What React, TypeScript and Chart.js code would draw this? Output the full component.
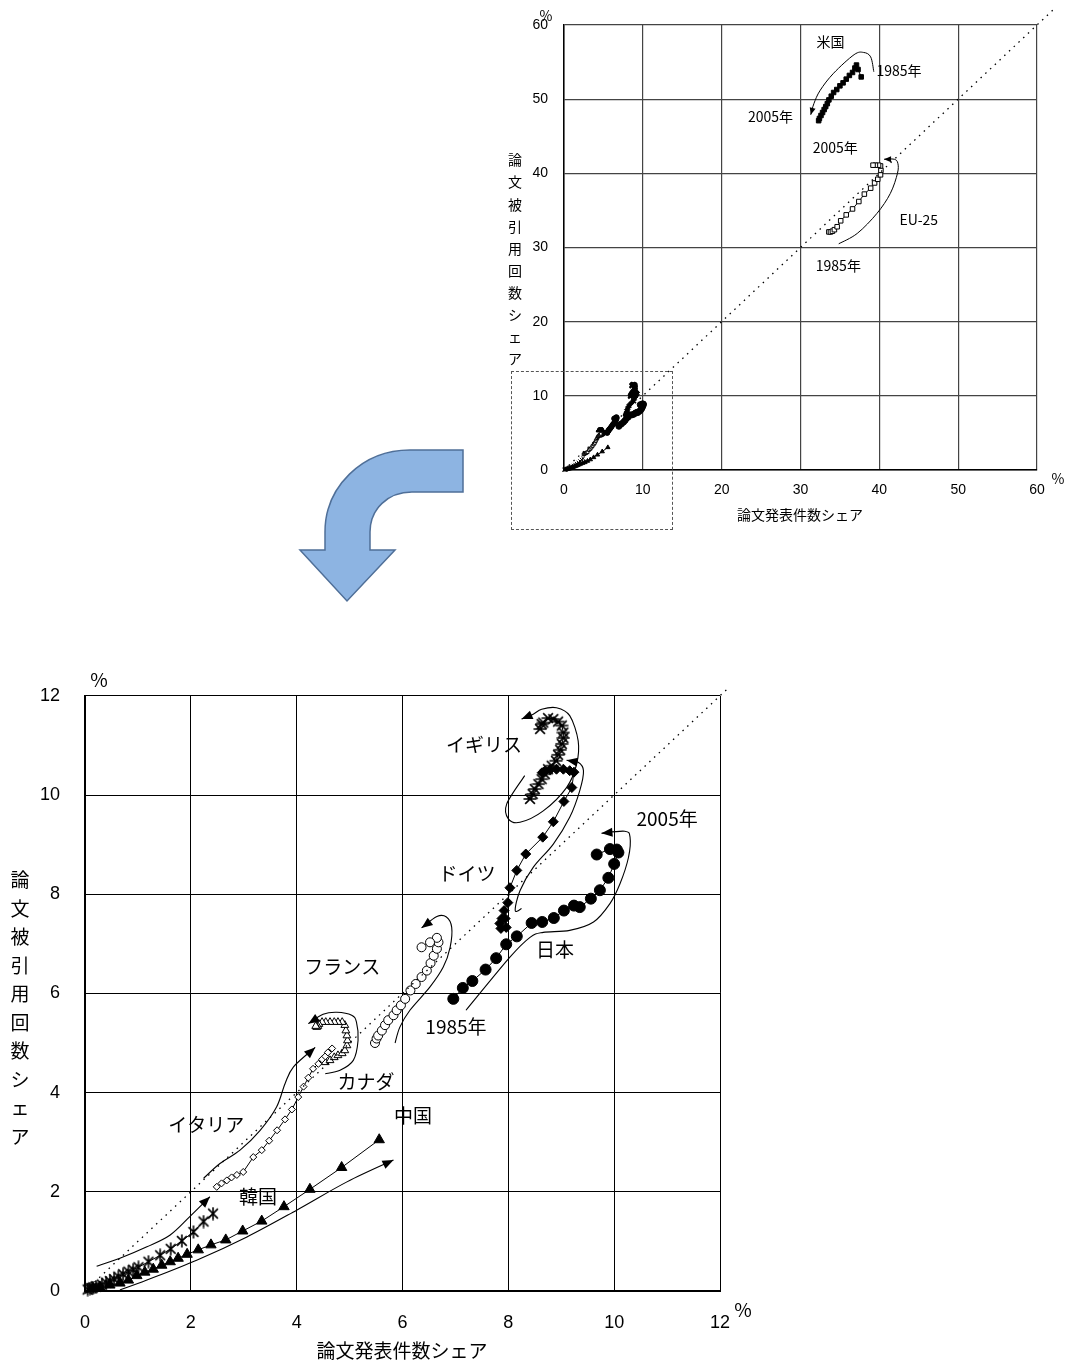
import React, { useEffect, useRef } from 'react';
import { Chart, registerables } from 'chart.js';
Chart.register(...registerables);

type P = [number, number];

// ---------- data (x: 論文発表件数シェア %, y: 論文被引用回数シェア %), 1985 → 2005 ----------
const japan: P[] = [[6.96,5.89],[7.14,6.11],[7.32,6.25],[7.57,6.48],[7.77,6.71],[7.96,6.99],[8.16,7.15],[8.44,7.42],[8.64,7.44],[8.86,7.52],[9.05,7.67],[9.24,7.77],[9.35,7.74],[9.56,7.91],[9.73,8.08],[9.89,8.33],[10.0,8.61],[10.08,8.84],[10.05,8.9],[9.92,8.91],[9.67,8.8]];
const germany: P[] = [[7.88,7.51],[7.84,7.41],[7.86,7.31],[7.96,7.33],[7.94,7.51],[7.92,7.67],[7.99,7.83],[8.03,8.13],[8.16,8.48],[8.33,8.81],[8.65,9.15],[8.85,9.46],[9.05,9.87],[9.2,10.15],[9.24,10.46],[9.16,10.49],[9.04,10.52],[8.91,10.52],[8.79,10.51],[8.69,10.48],[8.64,10.45]];
const uk: P[] = [[8.41,9.92],[8.46,10.02],[8.5,10.12],[8.57,10.22],[8.63,10.32],[8.69,10.42],[8.75,10.52],[8.82,10.59],[8.9,10.69],[8.94,10.81],[8.98,10.91],[9.01,11.03],[9.04,11.15],[9.04,11.26],[9.01,11.4],[8.94,11.48],[8.85,11.53],[8.75,11.55],[8.66,11.46],[8.63,11.43],[8.6,11.33]];
const france: P[] = [[5.48,5.0],[5.51,5.09],[5.54,5.15],[5.61,5.25],[5.67,5.36],[5.73,5.46],[5.83,5.56],[5.89,5.66],[5.97,5.76],[6.05,5.89],[6.15,6.06],[6.25,6.19],[6.36,6.33],[6.46,6.46],[6.53,6.61],[6.59,6.76],[6.65,6.9],[6.68,7.03],[6.65,7.12],[6.52,7.03],[6.36,6.93]];
const canada: P[] = [[4.54,4.61],[4.63,4.65],[4.71,4.71],[4.78,4.75],[4.86,4.79],[4.91,4.85],[4.95,4.95],[4.96,5.05],[4.95,5.15],[4.93,5.25],[4.91,5.36],[4.86,5.42],[4.78,5.42],[4.71,5.42],[4.63,5.42],[4.55,5.42],[4.48,5.42],[4.42,5.38],[4.4,5.34],[4.38,5.32],[4.36,5.34]];
const italy: P[] = [[2.49,2.1],[2.58,2.17],[2.68,2.23],[2.77,2.29],[2.87,2.34],[2.99,2.4],[3.18,2.7],[3.34,2.84],[3.48,3.03],[3.63,3.24],[3.78,3.46],[3.91,3.66],[4.03,3.91],[4.13,4.12],[4.22,4.3],[4.31,4.48],[4.41,4.58],[4.48,4.67],[4.54,4.73],[4.59,4.81],[4.67,4.89]];
const korea: P[] = [[0.05,0.03],[0.09,0.05],[0.12,0.06],[0.15,0.07],[0.21,0.09],[0.32,0.13],[0.4,0.17],[0.47,0.2],[0.55,0.24],[0.63,0.29],[0.72,0.34],[0.82,0.39],[0.91,0.43],[1.01,0.48],[1.2,0.59],[1.42,0.72],[1.62,0.85],[1.83,1.01],[2.05,1.19],[2.24,1.4],[2.42,1.56]];
const china: P[] = [[0.15,0.05],[0.28,0.08],[0.47,0.12],[0.66,0.16],[0.82,0.22],[0.98,0.31],[1.13,0.38],[1.29,0.44],[1.45,0.52],[1.61,0.59],[1.76,0.66],[1.93,0.74],[2.14,0.83],[2.38,0.93],[2.66,1.03],[2.98,1.21],[3.34,1.41],[3.76,1.7],[4.25,2.05],[4.85,2.49],[5.56,3.05]];
const usa: P[] = [[37.7,53.0],[37.3,54.0],[37.1,54.6],[36.9,54.2],[36.6,53.6],[36.2,53.2],[35.8,52.7],[35.4,52.2],[35.0,51.8],[34.6,51.3],[34.2,50.9],[33.9,50.4],[33.6,49.9],[33.4,49.4],[33.2,49.0],[33.0,48.6],[32.8,48.2],[32.6,47.8],[32.4,47.4],[32.3,47.1]];
const eu25: P[] = [[33.6,32.1],[33.8,32.1],[34.05,32.2],[34.3,32.4],[34.65,32.8],[35.1,33.6],[35.8,34.4],[36.6,35.2],[37.4,36.2],[38.1,37.2],[38.9,38.0],[39.4,38.7],[39.8,39.2],[40.15,39.8],[40.2,40.4],[40.15,41.0],[39.9,41.1],[39.5,41.1],[39.2,41.1]];

const bottomTicks = [0, 2, 4, 6, 8, 10, 12];
const topTicks = [0, 10, 20, 30, 40, 50, 60];

// annotation guide curves (data coords), arrowhead at last point
const bottomCurves: P[][] = [
  [[8.31,10.39],[7.97,9.82],[8.0,9.52],[8.22,9.45],[8.66,9.68],[9.1,10.15],[9.29,10.62],[9.32,11.09],[9.16,11.6],[8.91,11.76],[8.63,11.73],[8.47,11.63],[8.25,11.53]],
  [[8.25,7.71],[8.13,7.67],[8.22,8.07],[8.47,8.54],[8.85,9.01],[9.16,9.55],[9.35,10.09],[9.42,10.49],[9.32,10.66],[9.1,10.7]],
  [[7.2,5.66],[8.03,6.73],[8.41,7.13],[8.66,7.23],[9.16,7.27],[9.61,7.44],[9.92,7.81],[10.11,8.21],[10.27,8.74],[10.3,9.15],[10.2,9.27],[9.76,9.23]],
  [[5.86,5.0],[5.95,5.32],[6.14,5.66],[6.52,6.13],[6.77,6.53],[6.9,6.93],[6.93,7.33],[6.83,7.54],[6.65,7.55],[6.36,7.32]],
  [[4.54,4.38],[4.82,4.45],[5.07,4.65],[5.16,5.05],[5.13,5.42],[5.04,5.56],[4.76,5.62],[4.5,5.58],[4.22,5.39]],
  [[2.24,2.27],[2.55,2.57],[2.93,2.84],[3.31,3.24],[3.62,3.71],[3.78,4.18],[3.94,4.52],[4.35,4.91]],
  [[0.22,0.5],[0.66,0.66],[1.17,0.89],[1.61,1.13],[1.98,1.5],[2.36,1.9]],
  [[0.66,0.02],[1.17,0.22],[2.11,0.62],[3.06,1.09],[4.0,1.63],[4.95,2.2],[5.83,2.64]],
];
const topCurves: P[][] = [
  [[39.3,53.7],[38.9,55.7],[38.0,56.3],[36.8,56.0],[34.2,53.5],[32.5,51.2],[31.7,49.4],[31.3,47.9]],
  [[34.85,30.5],[37.2,31.9],[39.7,34.6],[41.4,37.3],[42.3,40.0],[42.35,41.35],[41.9,41.9],[40.6,41.9]],
];

type Lbl = { t: string; x: number; y: number };
const bottomLabels: Lbl[] = [
  { t: 'イギリス', x: 7.54, y: 11.02 },
  { t: '2005年', x: 11.0, y: 9.52 },
  { t: 'ドイツ', x: 7.22, y: 8.42 },
  { t: '日本', x: 8.88, y: 6.87 },
  { t: 'フランス', x: 4.86, y: 6.54 },
  { t: '1985年', x: 7.01, y: 5.32 },
  { t: 'カナダ', x: 5.31, y: 4.21 },
  { t: '中国', x: 6.2, y: 3.53 },
  { t: 'イタリア', x: 2.29, y: 3.36 },
  { t: '韓国', x: 3.27, y: 1.89 },
];
const topLabels: Lbl[] = [
  { t: '米国', x: 33.8, y: 57.7 },
  { t: '1985年', x: 42.5, y: 53.9 },
  { t: '2005年', x: 26.2, y: 47.6 },
  { t: '2005年', x: 34.4, y: 43.5 },
  { t: 'EU-25', x: 45.0, y: 33.8 },
  { t: '1985年', x: 34.8, y: 27.5 },
];

const yTitle = '論文被引用回数シェア';
const xTitle = '論文発表件数シェア';
const JP = '"Noto Sans CJK JP", "Noto Sans", sans-serif';
const NUM = '"Liberation Sans", Arial, sans-serif';

function makeMarker(size: number, lw: number, kind: 'starV' | 'starH') {
  const c = document.createElement('canvas');
  c.width = size; c.height = size;
  const g = c.getContext('2d')!;
  g.strokeStyle = '#000'; g.lineWidth = lw;
  const m = size / 2, r = size / 2 - 0.5, d = r * 0.75;
  g.beginPath();
  g.moveTo(m - d, m - d); g.lineTo(m + d, m + d);
  g.moveTo(m + d, m - d); g.lineTo(m - d, m + d);
  if (kind === 'starV') { g.moveTo(m, m - r); g.lineTo(m, m + r); }
  else { g.moveTo(m - r, m); g.lineTo(m + r, m); }
  g.stroke();
  return c;
}

const annotPlugin = {
  id: 'annot',
  afterDatasetsDraw(chart: any, _a: any, opts: any) {
    const { ctx } = chart;
    const xs = chart.scales.x, ys = chart.scales.y;
    ctx.save();
    ctx.strokeStyle = '#000'; ctx.fillStyle = '#000';
    ctx.lineWidth = opts.lw;
    for (const c of opts.curves as P[][]) {
      const pts = c.map(([a, b]) => [xs.getPixelForValue(a), ys.getPixelForValue(b)]);
      ctx.beginPath();
      ctx.moveTo(pts[0][0], pts[0][1]);
      for (let i = 0; i < pts.length - 1; i++) {
        const p0 = pts[i - 1] || pts[i], p1 = pts[i], p2 = pts[i + 1], p3 = pts[i + 2] || p2;
        ctx.bezierCurveTo(p1[0] + (p2[0] - p0[0]) / 6, p1[1] + (p2[1] - p0[1]) / 6,
          p2[0] - (p3[0] - p1[0]) / 6, p2[1] - (p3[1] - p1[1]) / 6, p2[0], p2[1]);
      }
      ctx.stroke();
      const n = pts.length;
      const e = pts[n - 1], p = pts[n - 2];
      const ang = Math.atan2(e[1] - p[1], e[0] - p[0]);
      const L = opts.ah, W = opts.aw;
      ctx.beginPath();
      ctx.moveTo(e[0], e[1]);
      ctx.lineTo(e[0] - L * Math.cos(ang) + W * Math.sin(ang), e[1] - L * Math.sin(ang) - W * Math.cos(ang));
      ctx.lineTo(e[0] - L * Math.cos(ang) - W * Math.sin(ang), e[1] - L * Math.sin(ang) + W * Math.cos(ang));
      ctx.closePath();
      ctx.fill();
    }
    ctx.font = `${opts.fs}px ${JP}`;
    ctx.textAlign = 'center'; ctx.textBaseline = 'middle';
    for (const l of opts.labels as Lbl[]) {
      ctx.fillText(l.t, xs.getPixelForValue(l.x), ys.getPixelForValue(l.y));
    }
    // fixed texts: axis titles and % signs
    ctx.font = `${opts.tfs}px ${JP}`;
    for (const f of opts.fixed) ctx.fillText(f.t, f.x, f.y);
    const chars = Array.from(yTitle);
    chars.forEach((ch, i) => ctx.fillText(ch, opts.yt.x, opts.yt.y0 + i * opts.yt.dy));
    ctx.restore();
  },
};

function series(sets: { d: P[]; style: any; r: number; fill: string; bw?: number }[]) {
  return sets.map((s) => ({
    data: s.d.map(([x, y]) => ({ x, y })),
    showLine: true,
    borderColor: '#000',
    borderWidth: 1,
    pointStyle: s.style,
    pointRadius: s.r,
    pointBackgroundColor: s.fill,
    pointBorderColor: '#000',
    pointBorderWidth: s.bw ?? 1,
    clip: false,
  }));
}

function diag(max: number) {
  return {
    data: [{ x: 0, y: 0 }, { x: max, y: max }],
    showLine: true,
    borderColor: '#000',
    borderWidth: 1.3,
    borderDash: [1.5, 5],
    pointRadius: 0,
    clip: false,
  };
}

function scaleOpts(min: number, max: number, ticks: number[], axis: 'x' | 'y', cfg: any) {
  return {
    type: 'linear',
    min, max,
    afterBuildTicks: (s: any) => { s.ticks = ticks.map((v) => ({ value: v })); },
    afterFit: (s: any) => { if (axis === 'x') s.height = cfg.size; else s.width = cfg.size; },
    ticks: { padding: cfg.pad, color: '#000', font: { size: cfg.fs, family: NUM } },
    grid: { color: cfg.grid, lineWidth: cfg.glw, drawTicks: false },
    border: { color: '#000', width: cfg.bw },
  };
}

function BottomChart() {
  const ref = useRef<HTMLCanvasElement>(null);
  useEffect(() => {
    const starV = makeMarker(14, 1.6, 'starV');
    const starH = makeMarker(14, 1.6, 'starH');
    const chart = new Chart(ref.current!, {
      type: 'scatter',
      data: {
        datasets: [
          diag(12.15),
          ...series([
            { d: china, style: 'triangle', r: 6, fill: '#000' },
            { d: korea, style: starV, r: 6, fill: '#000' },
            { d: italy, style: 'rectRot', r: 3.5, fill: '#fff' },
            { d: canada, style: 'triangle', r: 4.5, fill: '#fff' },
            { d: france, style: 'circle', r: 4.5, fill: '#fff' },
            { d: japan, style: 'circle', r: 5.5, fill: '#000' },
            { d: germany, style: 'rectRot', r: 5, fill: '#000' },
            { d: uk, style: starH, r: 6, fill: '#000' },
          ]),
        ] as any,
      },
      options: {
        animation: false,
        responsive: false,
        layout: { padding: { left: 0, right: 40, top: 35, bottom: 0 } },
        plugins: {
          legend: { display: false },
          tooltip: { enabled: false },
          annot: {
            curves: bottomCurves, labels: bottomLabels, fs: 19, tfs: 19, lw: 1.1, ah: 11, aw: 4.5,
            fixed: [
              { t: '%', x: 99, y: 20 },
              { t: '%', x: 743, y: 650 },
              { t: xTitle, x: 402, y: 691 },
            ],
            yt: { x: 20, y0: 220, dy: 28.5 },
          },
        } as any,
        scales: {
          x: scaleOpts(0, 12, bottomTicks, 'x', { size: 72, pad: 21, fs: 18, grid: '#000', glw: 1, bw: 2 }),
          y: scaleOpts(0, 12, bottomTicks, 'y', { size: 85, pad: 25, fs: 18, grid: '#000', glw: 1, bw: 2 }),
        } as any,
      },
      plugins: [annotPlugin],
    });
    return () => chart.destroy();
  }, []);
  return <canvas ref={ref} width={760} height={703} style={{ position: 'absolute', left: 0, top: 660, width: 760, height: 703 }} />;
}

function TopChart() {
  const ref = useRef<HTMLCanvasElement>(null);
  useEffect(() => {
    const chart = new Chart(ref.current!, {
      type: 'scatter',
      data: {
        datasets: [
          diag(62.1),
          ...series([
            { d: usa, style: 'rect', r: 3.2, fill: '#000' },
            { d: eu25, style: 'rect', r: 3.2, fill: '#fff' },
            { d: china, style: 'triangle', r: 2.5, fill: '#000' },
            { d: korea, style: 'crossRot', r: 2.5, fill: '#000' },
            { d: italy, style: 'rect', r: 2, fill: '#fff' },
            { d: canada, style: 'triangle', r: 2.5, fill: '#000' },
            { d: france, style: 'circle', r: 2.5, fill: '#000' },
            { d: japan, style: 'circle', r: 3, fill: '#000' },
            { d: germany, style: 'rectRot', r: 2.8, fill: '#000' },
            { d: uk, style: 'crossRot', r: 3, fill: '#000', bw: 2 },
          ]),
        ] as any,
      },
      options: {
        animation: false,
        responsive: false,
        layout: { padding: { left: 0, right: 33, top: 25, bottom: 0 } },
        plugins: {
          legend: { display: false },
          tooltip: { enabled: false },
          annot: {
            curves: topCurves, labels: topLabels, fs: 14, tfs: 14, lw: 1, ah: 7, aw: 3,
            fixed: [
              { t: '%', x: 46, y: 16 },
              { t: '%', x: 558, y: 479 },
              { t: xTitle, x: 300, y: 515 },
            ],
            yt: { x: 15, y0: 160, dy: 22.1 },
          },
        } as any,
        scales: {
          x: scaleOpts(0, 60, topTicks, 'x', { size: 70, pad: 12, fs: 14, grid: '#444', glw: 1.2, bw: 1.5 }),
          y: scaleOpts(0, 60, topTicks, 'y', { size: 64, pad: 16, fs: 14, grid: '#444', glw: 1.2, bw: 1.5 }),
        } as any,
      },
      plugins: [annotPlugin],
    });
    return () => chart.destroy();
  }, []);
  return <canvas ref={ref} width={570} height={540} style={{ position: 'absolute', left: 500, top: 0, width: 570, height: 540 }} />;
}

function BlueArrow() {
  return (
    <svg width={1070} height={1363} style={{ position: 'absolute', left: 0, top: 0, pointerEvents: 'none' }}>
      <path
        d="M463,450 L410,450 C362,450 325,487 325,532 L325,550 L300,550 L347,601 L395,550 L370,550 L370,532 C370,509 388,492 412,492 L463,492 Z"
        fill="#8db4e2"
        stroke="#4f6f98"
        strokeWidth={1.5}
      />
    </svg>
  );
}

export default function App() {
  return (
    <div style={{ position: 'absolute', left: 0, top: 0, width: 1070, height: 1363, background: '#fff', overflow: 'hidden' }}>
      <BlueArrow />
      <TopChart />
      <BottomChart />
      <div style={{ position: 'absolute', left: 511, top: 371, width: 160, height: 157, border: '1px dashed #555', pointerEvents: 'none' }} />
    </div>
  );
}
